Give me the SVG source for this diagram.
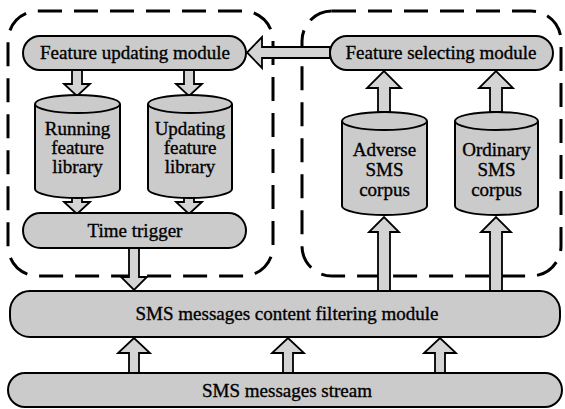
<svg xmlns="http://www.w3.org/2000/svg" width="565" height="409" viewBox="0 0 565 409">
<style>
.box{fill:#cbcbcb;stroke:#000;stroke-width:2}
.grp{fill:none;stroke:#000;stroke-width:3;stroke-dasharray:24 12}
.arr{fill:#d4d4d4;stroke:#000;stroke-width:1.8;stroke-linejoin:miter}
.t{font-family:'Liberation Serif','DejaVu Serif','Times New Roman',Times,serif;font-size:19px;fill:#000;text-anchor:middle;stroke:#000;stroke-width:0.35}
</style>
<rect width="565" height="409" fill="#fff"/>
<g id="groups">
<rect id="left-group" class="grp" x="8" y="11" width="265" height="265" rx="30"/>
<rect id="right-group" class="grp" x="302" y="11" width="259" height="265" rx="30"/>
</g>
<g id="connectors">
<path class="arr" d="M72,70 V84 H64 L77,96 L90,84 H82 V70 Z"/>
<path class="arr" d="M184,70 V84 H176 L189,96 L202,84 H194 V70 Z"/>
<path class="arr" d="M72,197 V202 H64 L77,214 L90,202 H82 V197 Z"/>
<path class="arr" d="M184,197 V202 H176 L189,214 L202,202 H194 V197 Z"/>
<path class="arr" d="M129,248 V277 H121 L134,290 L147,277 H139 V248 Z"/>
<path class="arr" d="M330,47 H262 V37 L247,52.5 L262,68 V58 H330 Z"/>
<path class="arr" d="M378,112 V88 H367 L384,71 L401,88 H390 V112 Z"/>
<path class="arr" d="M490,112 V88 H479 L496,71 L513,88 H502 V112 Z"/>
<path class="arr" d="M378,291 V232 H369 L384,217 L399,232 H390 V291 Z"/>
<path class="arr" d="M490,291 V232 H481 L496,217 L511,232 H502 V291 Z"/>
<path class="arr" d="M129,373 V353 H118 L134,338 L150,353 H139 V373 Z"/>
<path class="arr" d="M283,373 V353 H272 L288,338 L304,353 H293 V373 Z"/>
<path class="arr" d="M435,373 V353 H424 L440,338 L456,353 H445 V373 Z"/>
</g>
<g id="feature-updating-module">
<rect class="box" x="23" y="36" width="223" height="34" rx="17"/>
<text class="t" x="135" y="59">Feature updating module</text>
</g>
<g id="running-feature-library">
<path class="box" d="M35,104 A42.5,9 0 0 1 120,104 V189 A42.5,9 0 0 1 35,189 Z"/>
<path d="M35,104 A42.5,9 0 0 0 120,104" fill="none" stroke="#000" stroke-width="2"/>
<text class="t" x="77.5" y="135">Running</text>
<text class="t" x="77.5" y="154">feature</text>
<text class="t" x="77.5" y="173">library</text>
</g>
<g id="updating-feature-library">
<path class="box" d="M148,104 A42,9 0 0 1 232,104 V189 A42,9 0 0 1 148,189 Z"/>
<path d="M148,104 A42,9 0 0 0 232,104" fill="none" stroke="#000" stroke-width="2"/>
<text class="t" x="190" y="135">Updating</text>
<text class="t" x="190" y="154">feature</text>
<text class="t" x="190" y="173">library</text>
</g>
<g id="time-trigger">
<rect class="box" x="23" y="213" width="223" height="35" rx="17.5"/>
<text class="t" x="135" y="237">Time trigger</text>
</g>
<g id="feature-selecting-module">
<rect class="box" x="330" y="36" width="223" height="34" rx="17"/>
<text class="t" x="441" y="59">Feature selecting module</text>
</g>
<g id="adverse-sms-corpus">
<path class="box" d="M342,121 A42.5,9 0 0 1 427,121 V206 A42.5,9 0 0 1 342,206 Z"/>
<path d="M342,121 A42.5,9 0 0 0 427,121" fill="none" stroke="#000" stroke-width="2"/>
<text class="t" x="384.5" y="156">Adverse</text>
<text class="t" x="384.5" y="176">SMS</text>
<text class="t" x="384.5" y="196">corpus</text>
</g>
<g id="ordinary-sms-corpus">
<path class="box" d="M455,121 A41.5,9 0 0 1 538,121 V206 A41.5,9 0 0 1 455,206 Z"/>
<path d="M455,121 A41.5,9 0 0 0 538,121" fill="none" stroke="#000" stroke-width="2"/>
<text class="t" x="496.5" y="156">Ordinary</text>
<text class="t" x="496.5" y="176">SMS</text>
<text class="t" x="496.5" y="196">corpus</text>
</g>
<g id="filtering-module">
<rect class="box" x="10" y="291" width="550" height="46" rx="20"/>
<text class="t" x="287" y="320">SMS messages content filtering module</text>
</g>
<g id="sms-stream">
<rect class="box" x="8" y="373" width="554" height="34" rx="17"/>
<text class="t" x="287" y="397">SMS messages stream</text>
</g>
</svg>
